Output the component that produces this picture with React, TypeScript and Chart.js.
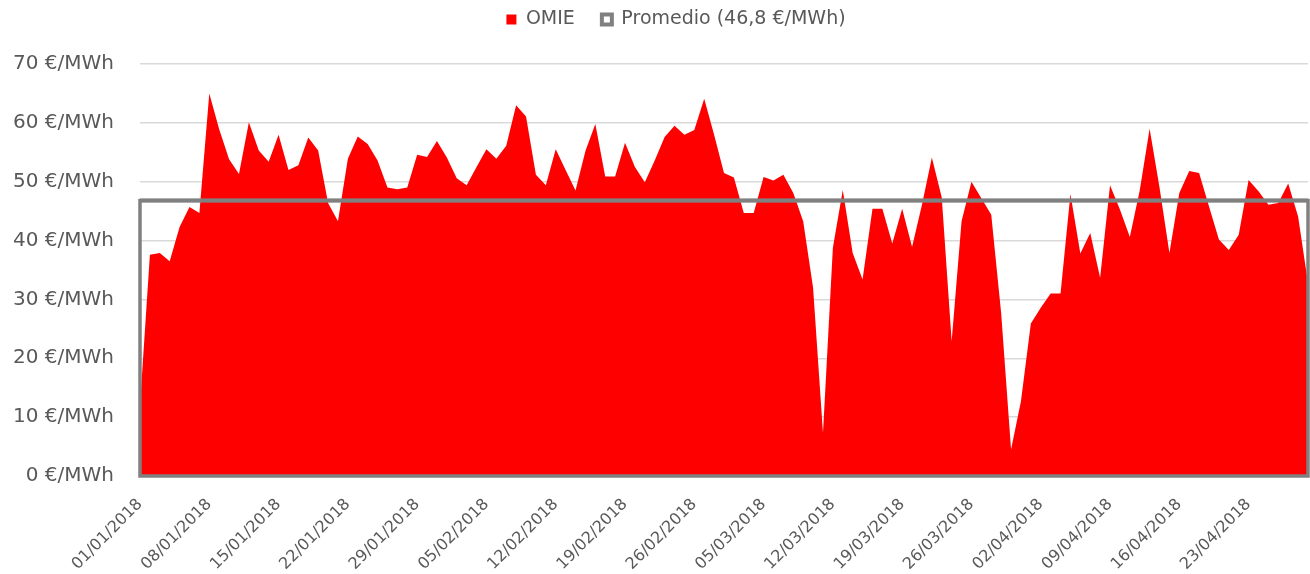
import React, { useEffect, useRef } from "react";
import { Chart, registerables } from "chart.js";

Chart.register(...registerables);

// ---- data ----
const START_YEAR = 2018;
const START_MONTH = 0; // January
const START_DAY = 1;

const omieValues: number[] = [
  12.0, 37.6, 37.9, 36.5, 42.3, 45.7, 44.7, 65.0, 58.9, 53.8,
  51.3, 60.1, 55.3, 53.4, 58.0, 52.0, 52.8, 57.5, 55.3, 46.4,
  43.3, 53.9, 57.7, 56.4, 53.6, 49.0, 48.7, 49.0, 54.6, 54.2,
  56.9, 54.1, 50.6, 49.4, 52.5, 55.5, 53.9, 56.1, 63.0, 61.1,
  51.2, 49.4, 55.5, 52.0, 48.5, 55.2, 59.8, 50.9, 50.9, 56.6,
  52.5, 49.9, 53.6, 57.6, 59.5, 58.0, 58.8, 64.1, 58.0, 51.5,
  50.7, 44.7, 44.7, 50.8, 50.2, 51.2, 48.1, 43.3, 32.0, 7.3,
  38.8, 48.6, 37.9, 33.4, 45.4, 45.4, 39.5, 45.4, 38.9, 46.1,
  54.1, 47.3, 22.9, 43.3, 50.0, 47.2, 44.4, 27.7, 4.5, 12.7,
  25.9, 28.6, 31.0, 31.0, 47.9, 37.8, 41.3, 33.7, 49.4, 45.3,
  40.6, 48.5, 59.0, 49.0, 37.9, 48.1, 51.8, 51.5, 45.8, 40.2,
  38.4, 41.0, 50.3, 48.4, 46.1, 46.4, 49.7, 44.1, 32.8,
];

const PROMEDIO = 46.8;
const Y_MIN = 0;
const Y_MAX = 70;
const Y_STEP = 10;
const LABEL_EVERY = 7;

const pad2 = (n: number) => (n < 10 ? "0" + n : "" + n);
const categories: string[] = omieValues.map((_, i) => {
  const d = new Date(Date.UTC(START_YEAR, START_MONTH, START_DAY + i));
  return `${pad2(d.getUTCDate())}/${pad2(d.getUTCMonth() + 1)}/${d.getUTCFullYear()}`;
});
const promedioValues: number[] = omieValues.map(() => PROMEDIO);
const promedioLabel = `Promedio (${PROMEDIO.toString().replace(".", ",")} €/MWh)`;

const TEXT = "#595959";
const FONT = "'DejaVu Sans', sans-serif";

// Legend is centred over a slightly narrower band (as in the original layout)
const LEGEND_LEFT_INSET = 44;

const legendShift = {
  id: "legendShift",
  afterLayout(chart: any) {
    if (chart.legend) chart.legend.left += LEGEND_LEFT_INSET;
  },
};

const promedioFrame = {
  id: "promedioFrame",
  afterDatasetsDraw(chart: any) {
    const xs = chart.scales.x;
    const ys = chart.scales.y;
    const left = xs.getPixelForValue(0);
    const right = xs.getPixelForValue(omieValues.length - 1);
    const top = ys.getPixelForValue(PROMEDIO);
    const bottom = ys.getPixelForValue(0);
    const ctx = chart.ctx;
    ctx.save();
    ctx.strokeStyle = "#808080";
    ctx.lineWidth = 3.5;
    ctx.strokeRect(left, top, right - left, bottom - top);
    ctx.restore();
  },
};

export default function App() {
  const ref = useRef<HTMLCanvasElement | null>(null);

  useEffect(() => {
    document.body.style.margin = "0";
    const canvas = ref.current;
    if (!canvas) return;
    const chart = new Chart(canvas, {
      type: "line",
      data: {
        labels: categories,
        datasets: [
          {
            label: "OMIE",
            data: omieValues,
            backgroundColor: "#ff0000",
            borderColor: "#ff0000",
            borderWidth: 0,
            fill: "origin",
            pointRadius: 0,
            tension: 0,
            order: 1,
          },
          {
            label: promedioLabel,
            data: promedioValues,
            borderColor: "#808080",
            backgroundColor: "rgba(0,0,0,0)",
            borderWidth: 4,
            fill: false,
            pointRadius: 0,
            tension: 0,
            order: 0,
          },
        ],
      },
      options: {
        animation: false,
        responsive: false,
        devicePixelRatio: 1,
        layout: { padding: { top: -17, right: 2, left: 0, bottom: 0 } },
        plugins: {
          tooltip: { enabled: false },
          title: {
            display: true,
            text: " ",
            weight: 500,
            font: { size: 10, lineHeight: 1 },
            padding: { top: 0, bottom: 15 },
          },
          legend: {
            position: "top",
            labels: {
              color: TEXT,
              font: { family: FONT, size: 19 },
              boxWidth: 10,
              boxHeight: 10,
              padding: 27,
              generateLabels: () => [
                {
                  text: "OMIE",
                  fillStyle: "#ff0000",
                  strokeStyle: "#ff0000",
                  lineWidth: 0,
                  datasetIndex: 0,
                  fontColor: TEXT,
                  hidden: false,
                },
                {
                  text: promedioLabel,
                  fillStyle: "#ffffff",
                  strokeStyle: "#808080",
                  lineWidth: 4,
                  datasetIndex: 1,
                  fontColor: TEXT,
                  hidden: false,
                },
              ],
            },
          },
        },
        scales: {
          x: {
            type: "category",
            offset: false,
            grid: { display: false },
            border: { display: false },
            ticks: {
              autoSkip: false,
              maxRotation: 45,
              minRotation: 45,
              color: TEXT,
              font: { family: FONT, size: 16 },
              padding: 11,
              callback: (_v: any, idx: number) =>
                idx % LABEL_EVERY === 0 ? categories[idx] : null,
            },
            afterFit: (scale: any) => {
              scale.height = 98;
            },
          },
          y: {
            min: Y_MIN,
            max: Y_MAX,
            grid: {
              color: "#d9d9d9",
              lineWidth: 1.5,
              drawTicks: false,
            },
            border: { display: false },
            ticks: {
              stepSize: Y_STEP,
              color: TEXT,
              font: { family: FONT, size: 20 },
              padding: 26,
              callback: (v: any) => `${v} €/MWh`,
            },
            afterFit: (scale: any) => {
              scale.width = 140;
            },
          },
        },
      },
      plugins: [promedioFrame, legendShift],
    } as any);
    return () => chart.destroy();
  }, []);

  return (
    <div style={{ width: 1310, height: 574 }}>
      <canvas ref={ref} width={1310} height={574} style={{ display: "block" }} />
    </div>
  );
}
